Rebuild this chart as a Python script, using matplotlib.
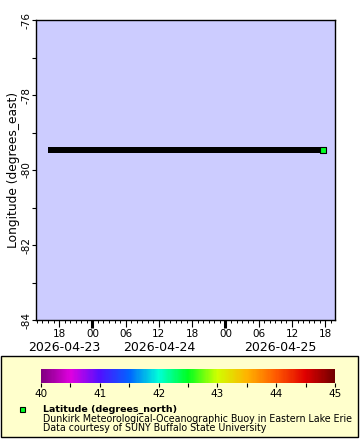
import matplotlib
matplotlib.use("Agg")
import matplotlib.pyplot as plt
import matplotlib.dates as mdates
import matplotlib.transforms as mtransforms
from matplotlib.colors import LinearSegmentedColormap
from matplotlib.patches import Rectangle
import numpy as np
import pandas as pd

# hourly buoy positions, 2026-04-23 16:30 -> 2026-04-25 17:30
times = pd.date_range("2026-04-23 16:30", "2026-04-25 17:30", freq="1h")
lon_east = [
    -79.47, -79.47, -79.47, -79.47, -79.47, -79.47, -79.47, -79.47, -79.47, -79.47,
    -79.47, -79.47, -79.47, -79.47, -79.47, -79.47, -79.47, -79.47, -79.47, -79.47,
    -79.47, -79.47, -79.47, -79.47, -79.47, -79.47, -79.47, -79.47, -79.47, -79.47,
    -79.47, -79.47, -79.47, -79.47, -79.47, -79.47, -79.47, -79.47, -79.47, -79.47,
    -79.47, -79.47, -79.47, -79.47, -79.47, -79.47, -79.47, -79.47, -79.47, -79.47,
]
lat_north = [
    42.49, 42.49, 42.49, 42.49, 42.49, 42.49, 42.49, 42.49, 42.49, 42.49,
    42.49, 42.49, 42.49, 42.49, 42.49, 42.49, 42.49, 42.49, 42.49, 42.49,
    42.49, 42.49, 42.49, 42.49, 42.49, 42.49, 42.49, 42.49, 42.49, 42.49,
    42.49, 42.49, 42.49, 42.49, 42.49, 42.49, 42.49, 42.49, 42.49, 42.49,
    42.49, 42.49, 42.49, 42.49, 42.49, 42.49, 42.49, 42.49, 42.49, 42.49,
]
day_labels = ["2026-04-23", "2026-04-24", "2026-04-25"]
cbar_ticks = [40, 41, 42, 43, 44, 45]
y_ticks = [-84, -82, -80, -78, -76]

W, H = 360, 440
PX = 72 / 100  # points per pixel

rainbow2 = LinearSegmentedColormap.from_list("rainbow2", [
    "#800080", "#e000e0", "#5010ff", "#0064ff", "#00ffd8", "#00ff20",
    "#d0ff00", "#ffb400", "#ff5a00", "#e00000", "#700000"])

plt.rcParams["font.family"] = ["DejaVu Sans"]
plt.rcParams["axes.unicode_minus"] = False
fig = plt.figure(figsize=(W / 100, H / 100), dpi=100)


def fig_box(x0, y0, x1, y1):
    # pixel box (top-left origin) -> figure fraction rect
    return [x0 / W, 1 - y1 / H, (x1 - x0) / W, (y1 - y0) / H]


ax = fig.add_axes(fig_box(36, 20, 335, 320))
ax.set_facecolor("#ccccff")
for s in ax.spines.values():
    s.set_linewidth(1.0)

ax.plot(times, lon_east, color="black", lw=6 * PX, solid_capstyle="projecting", zorder=2)
ax.scatter(times[-1:], lon_east[-1:], c=lat_north[-1:], cmap=rainbow2, vmin=40, vmax=45,
           marker="s", s=(5.5 * PX) ** 2, edgecolors="black", linewidths=0.8, zorder=3)

x0 = pd.Timestamp("2026-04-23 13:50")
x1 = pd.Timestamp("2026-04-25 19:45")
ax.set_xlim(x0, x1)
ax.set_ylim(-84, -76)

ax.set_yticks(y_ticks)
ax.set_yticks(np.arange(-83, -76, 2), minor=True)
ax.tick_params(axis="y", which="both", direction="out", length=3, width=0.8, pad=0, labelsize=7.5)
for lab in ax.get_yticklabels():
    lab.set_rotation(90)
    lab.set_va("center")

ax.xaxis.set_major_locator(mdates.HourLocator(byhour=[0, 6, 12, 18]))
ax.xaxis.set_major_formatter(mdates.DateFormatter("%H"))
ax.xaxis.set_minor_locator(mdates.HourLocator())
ax.tick_params(axis="x", which="major", direction="out", length=5, width=0.8, pad=1.5, labelsize=7.5)
ax.tick_params(axis="x", which="minor", direction="out", length=2.5, width=0.7)
for loc, tick in zip(ax.xaxis.get_majorticklocs(), ax.xaxis.get_major_ticks()):
    if mdates.num2date(loc).hour == 0:
        tick.tick1line.set_markeredgewidth(2.2)
        tick.tick1line.set_markersize(6)

ax.set_ylabel("Longitude (degrees_east)", fontsize=8.8)
ax.yaxis.set_label_coords((20 - 36) / 299, 0.5)

# date labels centred on each day's visible span
date_tr = mtransforms.blended_transform_factory(ax.transData, fig.transFigure)
for lab in day_labels:
    d0 = max(pd.Timestamp(lab), x0)
    d1 = min(pd.Timestamp(lab) + pd.Timedelta(days=1), x1)
    xc = d0 + (d1 - d0) / 2
    ax.text(mdates.date2num(xc), 1 - 347 / H, lab, fontsize=9, ha="center", va="center",
            transform=date_tr)

# legend box
fig.add_artist(Rectangle((1 / W, 1 - 437 / H), 357 / W, 81 / H, transform=fig.transFigure,
                         facecolor="#ffffcc", edgecolor="black", lw=1.0, zorder=0))

cax = fig.add_axes(fig_box(41, 369, 335, 383))
sm = plt.cm.ScalarMappable(cmap=rainbow2, norm=plt.Normalize(40, 45))
cb = fig.colorbar(sm, cax=cax, orientation="horizontal")
cb.outline.set_visible(False)
cb.set_ticks(cbar_ticks)
cax.set_xticks(np.arange(40.5, 45, 1), minor=True)
cax.tick_params(axis="x", which="both", direction="out", length=3, width=0.8, pad=1.5, labelsize=7.5)

fig.add_artist(Rectangle((19.5 / W, 1 - 411.5 / H), 5 / W, 5 / H, transform=fig.transFigure,
                         facecolor=rainbow2((lat_north[-1] - 40) / 5), edgecolor="black", lw=0.8))
fig.text(43 / W, 1 - 409 / H, "Latitude (degrees_north)", fontsize=6.8, fontweight="bold",
         va="center")
fig.text(43 / W, 1 - 418.5 / H, "Dunkirk Meteorological-Oceanographic Buoy in Eastern Lake Erie",
         fontsize=6.85, va="center")
fig.text(43 / W, 1 - 427.5 / H, "Data courtesy of SUNY Buffalo State University", fontsize=6.85,
         va="center")

fig.savefig("out.png", dpi=100, facecolor="white")
